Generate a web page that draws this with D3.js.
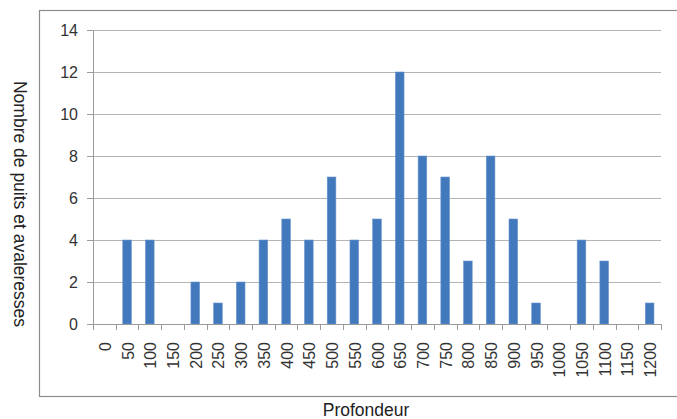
<!DOCTYPE html>
<html>
<head>
<meta charset="utf-8">
<script src="https://cdn.jsdelivr.net/npm/d3@7"></script>
<style>
  body { margin: 0; background: #fff; }
  svg { display: block; font-family: "Liberation Sans", Arial, sans-serif; }
</style>
</head>
<body>
<div id="chart"></div>
<script>
const depths = ["0", "50", "100", "150", "200", "250", "300", "350", "400", "450", "500", "550", "600",
    "650", "700", "750", "800", "850", "900", "950", "1000", "1050", "1100", "1150", "1200"];
const counts = [0, 4, 4, 0, 2, 1, 2, 4, 5, 4, 7, 4, 5, 12, 8, 7, 3, 8, 5, 1, 0, 4, 3, 0, 1];
const yTicks = [0, 2, 4, 6, 8, 10, 12, 14];

const data = depths.map((d, i) => ({ depth: d, count: counts[i] }));

const W = 677, H = 419;
const margin = { top: 30, right: 16, bottom: 95, left: 93 };
const width = W - margin.left - margin.right;
const height = H - margin.top - margin.bottom;

const svg = d3.select("#chart")
    .append("svg")
    .attr("width", W)
    .attr("height", H);

// outer frame
svg.append("rect")
    .attr("x", 39.5)
    .attr("y", 10.5)
    .attr("width", 660)
    .attr("height", 386)
    .attr("fill", "none")
    .attr("stroke", "#8c8c8c")
    .attr("stroke-width", 1.2);

const g = svg.append("g")
    .attr("transform", `translate(${margin.left},${margin.top})`);

const x = d3.scaleBand()
    .domain(depths)
    .range([0, width])
    .paddingInner(0.62)
    .paddingOuter(0.31);

const y = d3.scaleLinear()
    .domain([0, 14])
    .range([height, 0]);

// gridlines
g.selectAll(".grid")
    .data(yTicks.filter(t => t > 0))
    .enter()
    .append("line")
    .attr("x1", 0)
    .attr("x2", width)
    .attr("y1", d => Math.round(y(d)) + 0.5)
    .attr("y2", d => Math.round(y(d)) + 0.5)
    .attr("stroke", "#b4b4b4")
    .attr("stroke-width", 1);

g.selectAll(".bar")
    .data(data)
    .enter()
    .append("rect")
    .attr("x", d => x(d.depth))
    .attr("y", d => y(d.count))
    .attr("width", x.bandwidth())
    .attr("height", d => height - y(d.count))
    .attr("fill", "#4279bd")
    .attr("stroke", "#6a95cc")
    .attr("stroke-width", 0.6);

// y axis
const yAxis = g.append("g")
    .call(d3.axisLeft(y).tickValues(yTicks).tickSize(6).tickPadding(9));
yAxis.select(".domain").attr("stroke", "#9a9a9a");
yAxis.selectAll(".tick line").attr("stroke", "#9a9a9a");
yAxis.selectAll(".tick text")
    .style("font-size", "16px")
    .attr("fill", "#333");

// x axis with ticks on category boundaries
const xAxisG = g.append("g")
    .attr("transform", `translate(0,${height})`);
xAxisG.append("line")
    .attr("x1", 0)
    .attr("x2", width)
    .attr("y1", 0.5)
    .attr("y2", 0.5)
    .attr("stroke", "#9a9a9a");
const step = x.step();
const x0 = x(depths[0]) - x.paddingOuter() * step;
xAxisG.selectAll(".btick")
    .data(d3.range(depths.length + 1))
    .enter()
    .append("line")
    .attr("x1", i => Math.round(x0 + i * step) + 0.5)
    .attr("x2", i => Math.round(x0 + i * step) + 0.5)
    .attr("y1", 0)
    .attr("y2", 6)
    .attr("stroke", "#9a9a9a");
xAxisG.selectAll(".xlab")
    .data(depths)
    .enter()
    .append("text")
    .attr("transform", d => `translate(${x(d) + x.bandwidth() / 2 + 6.5},18) rotate(-90)`)
    .attr("text-anchor", "end")
    .style("font-size", "16px")
    .attr("fill", "#333")
    .text(d => d);

// axis titles
svg.append("text")
    .attr("x", 366)
    .attr("y", 416)
    .attr("text-anchor", "middle")
    .style("font-size", "17.5px")
    .attr("fill", "#222")
    .text("Profondeur");

svg.append("text")
    .attr("transform", `translate(14,204) rotate(90)`)
    .attr("text-anchor", "middle")
    .style("font-size", "17.5px")
    .attr("fill", "#222")
    .text("Nombre de puits et avaleresses");
</script>
</body>
</html>
